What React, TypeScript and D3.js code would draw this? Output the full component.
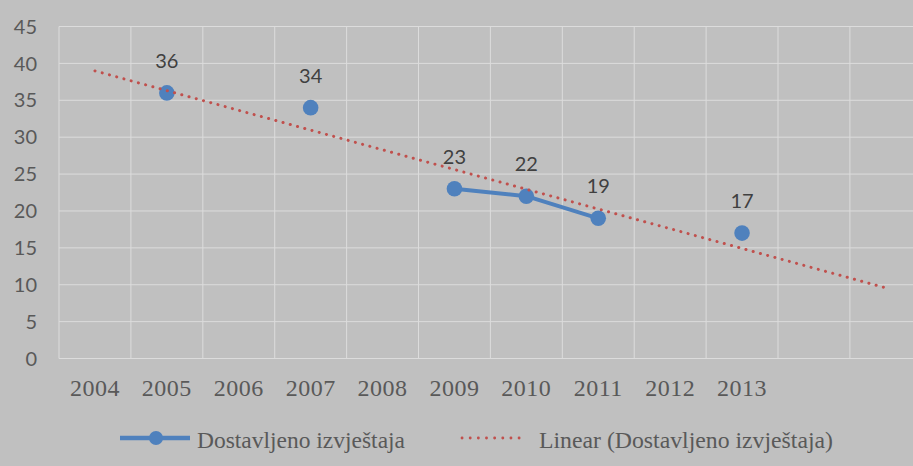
import React from "react";
import * as d3 from "d3";

// categories on the x axis (last two slots have no label)
const years = ["2004", "2005", "2006", "2007", "2008", "2009", "2010", "2011", "2012", "2013", "", ""];
// number of reports delivered, null = no value for that year
const reports: (number | null)[] = [null, 36, null, 34, null, 23, 22, 19, null, 17, null, null];
const yTicks = [0, 5, 10, 15, 20, 25, 30, 35, 40, 45];

const seriesName = "Dostavljeno izvještaja";
const trendName = "Linear (Dostavljeno izvještaja)";

const App = () => {
  const width = 913,
    height = 466;
  const left = 59,
    top = 26.5,
    bottom = 358.5,
    step = 71.9;

  const idx = years.map((_, i) => i);
  const x = d3
    .scaleBand<number>()
    .domain(idx)
    .range([left, left + step * years.length]);
  const y = d3.scaleLinear().domain([0, 45]).range([bottom, top]);
  const cx = (i: number) => (x(i) as number) + x.bandwidth() / 2;

  // linear trendline (least squares over category index)
  const pts = reports
    .map((v, i) => ({ i: i + 1, v }))
    .filter((d) => d.v != null) as { i: number; v: number }[];
  const mx = d3.mean(pts, (d) => d.i) as number;
  const my = d3.mean(pts, (d) => d.v) as number;
  const sxy = d3.sum(pts, (d) => (d.i - mx) * (d.v - my));
  const sxx = d3.sum(pts, (d) => (d.i - mx) * (d.i - mx));
  const slope = sxy / sxx;
  const trend = (i: number) => my + slope * (i + 1 - mx);

  const line = d3
    .line<number | null>()
    .defined((d) => d != null)
    .x((_, i) => cx(i))
    .y((d) => y(d as number));

  const trendPath = d3.line<number>().x((i) => cx(i)).y((i) => y(trend(i)))([0, years.length - 1]);

  const blue = "#4f81bd";
  const red = "#c0504d";
  const grid = "#dcdcdc";
  const txt = "#595959";

  return (
    <svg
      width={width}
      height={height}
      style={{ position: "absolute", left: 0, top: 0, background: "#c0c0c0" }}
    >
      <rect width={width} height={height} fill="#c0c0c0" />
      {/* horizontal gridlines */}
      {yTicks.map((t) => (
        <line key={"h" + t} x1={left} x2={width} y1={y(t)} y2={y(t)} stroke={grid} strokeWidth={1} />
      ))}
      {/* vertical gridlines */}
      {idx.map((i) => (
        <line
          key={"v" + i}
          x1={x(i) as number}
          x2={x(i) as number}
          y1={top}
          y2={bottom}
          stroke={grid}
          strokeWidth={1}
        />
      ))}
      {/* y labels */}
      {yTicks.map((t) => (
        <text
          key={"yl" + t}
          x={37}
          y={y(t)}
          dy="0.36em"
          textAnchor="end"
          fontFamily="Lato, sans-serif"
          fontSize={20}
          fill={txt}
        >
          {t}
        </text>
      ))}
      {/* x labels */}
      {years.map((yr, i) =>
        yr ? (
          <text
            key={"xl" + i}
            x={cx(i)}
            y={396}
            textAnchor="middle"
            fontFamily="'Liberation Serif', serif"
            fontSize={24}
            letterSpacing={0.5}
            fill={txt}
          >
            {yr}
          </text>
        ) : null
      )}
      {/* series line */}
      <path d={line(reports) || ""} fill="none" stroke={blue} strokeWidth={4} strokeLinejoin="round" />
      {reports.map((v, i) =>
        v != null ? <circle key={"p" + i} cx={cx(i)} cy={y(v)} r={7.8} fill={blue} /> : null
      )}
      {/* trendline */}
      <path
        d={trendPath || ""}
        fill="none"
        stroke={red}
        strokeWidth={3}
        strokeLinecap="round"
        strokeDasharray="0.1 7.4"
      />
      {/* data labels */}
      {reports.map((v, i) =>
        v != null ? (
          <text
            key={"dl" + i}
            x={cx(i)}
            y={y(v) - 25}
            textAnchor="middle"
            fontFamily="Lato, sans-serif"
            fontSize={20}
            fill="#404040"
          >
            {v}
          </text>
        ) : null
      )}
      {/* legend */}
      <g>
        <line x1={120} x2={190} y1={438} y2={438} stroke={blue} strokeWidth={4.5} />
        <circle cx={156} cy={438} r={7} fill={blue} />
        <text
          x={197}
          y={448}
          fontFamily="'Liberation Serif', serif"
          fontSize={23}
          fill={txt}
          textLength={208}
          lengthAdjust="spacingAndGlyphs"
        >
          {seriesName}
        </text>
        <line
          x1={462}
          x2={527}
          y1={438}
          y2={438}
          stroke={red}
          strokeWidth={2.8}
          strokeLinecap="round"
          strokeDasharray="0.1 8.05"
        />
        <text
          x={539}
          y={448}
          fontFamily="'Liberation Serif', serif"
          fontSize={23}
          fill={txt}
          textLength={294}
          lengthAdjust="spacingAndGlyphs"
        >
          {trendName}
        </text>
      </g>
    </svg>
  );
};

export default App;
